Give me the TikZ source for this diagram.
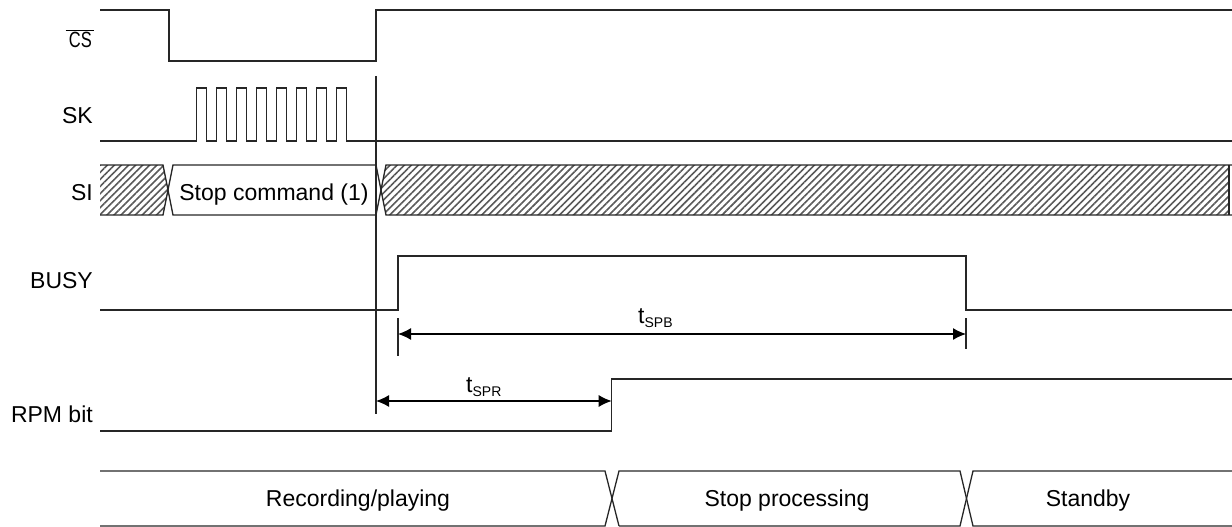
\documentclass[tikz,border=0pt]{standalone}
\usepackage{fontspec}
\setmainfont{Liberation Sans}
\usetikzlibrary{arrows.meta,patterns.meta}
\begin{document}
\begin{tikzpicture}[x=1pt,y=-1pt,
  sig/.style={line width=1.3pt,draw=black!85},
  lbl/.style={anchor=base east,inner sep=0pt,font=\fontsize{23}{27}\selectfont},
  txt/.style={anchor=base,inner sep=0pt,font=\fontsize{23}{27}\selectfont},
  hatch/.style={pattern={Lines[angle=45,distance=5pt,line width=1.6pt]},pattern color=black!65},
  dim/.style={line width=1.3pt,draw=black,{Latex[length=13pt,width=12pt]}-{Latex[length=13pt,width=12pt]}},
  tick/.style={line width=1.3pt,draw=black!85}]
\useasboundingbox (0,0) rectangle (1232,527);

% labels
\node[lbl,font=\fontsize{22}{26}\selectfont] (lcs) at (92,48) {\scalebox{0.75}[1]{CS}};
\draw[line width=1.3pt] ([xshift=-3pt,yshift=2pt]lcs.north west) -- ([xshift=2pt,yshift=2pt]lcs.north east);
\node[lbl] (lsk) at (93,124) {SK};
\node[lbl] (lsi) at (93,200) {SI};
\node[lbl] (lbusy) at (93,288) {BUSY};
\node[lbl] (lrpm) at (93,422) {RPM bit};

% CS
\draw[sig] (100,10) -- (169,10) -- (169,61) -- (376,61) -- (376,10) -- (1232,10);

% SK
\draw[sig] (100,141) foreach \i in {0,...,7} { -- ({196.7+20*\i},141) -- ({196.7+20*\i},88) -- ({206.7+20*\i},88) -- ({206.7+20*\i},141) } -- (1232,141);

% SI
\fill[hatch] (100,165) -- (163,165) -- (168,190) -- (163,215) -- (100,215) -- cycle;
\fill[hatch] (386,165) -- (1229,165) -- (1229,215) -- (386,215) -- (381,190) -- cycle;
\draw[sig] (100,165) -- (163,165) -- (168,190) -- (163,215) -- (100,215);
\draw[sig] (376,165) -- (173,165) -- (168,190) -- (173,215) -- (376,215);
\draw[sig] (376,165) -- (381,190) -- (376,215);
\draw[sig] (1232,165) -- (386,165) -- (381,190) -- (386,215) -- (1232,215);
\draw[sig] (1229,165) -- (1229,215);
\node[txt] (cmd) at (274,200) {Stop command (1)};

% marker line
\coordinate (mtop) at (376,76);
\coordinate (mbot) at (376,414);
\draw[tick] (mtop) -- (mbot);

% BUSY
\draw[sig] (100,310) -- (398,310) -- (398,256) -- (966,256) -- (966,310) -- (1232,310);

% tSPB
\coordinate (b1t) at (398,318); \coordinate (b1b) at (398,356);
\coordinate (b2t) at (966,318); \coordinate (b2b) at (966,349);
\draw[tick] (b1t) -- (b1b);
\draw[tick] (b2t) -- (b2b);
\coordinate (spbL) at (398,334); \coordinate (spbR) at (966,334);
\draw[dim] (spbL) -- (spbR);
\node[txt,anchor=base west] (tspb) at (638,323) {t\raisebox{-4pt}{\fontsize{14}{14}\selectfont SPB}};

% RPM bit
\draw[sig] (100,431) -- (611.7,431) -- (611.7,379) -- (1232,379);
\coordinate (sprL) at (376,401); \coordinate (sprR) at (611.7,401);
\draw[dim] (sprL) -- (sprR);
\node[txt,anchor=base west] (tspr) at (466,392) {t\raisebox{-4pt}{\fontsize{14}{14}\selectfont SPR}};

% state bus
\draw[sig] (100,471) -- (605,471) -- (619,526);
\draw[sig] (100,526) -- (605,526) -- (619,471) -- (960,471) -- (973,526) -- (1232,526);
\draw[sig] (619,526) -- (960,526) -- (973,471) -- (1232,471);
\node[txt] (srec) at (358,506) {Recording/playing};
\node[txt] (sstop) at (787,506) {Stop processing};
\node[txt] (sstb) at (1088,506) {Standby};
\end{tikzpicture}
\end{document}
